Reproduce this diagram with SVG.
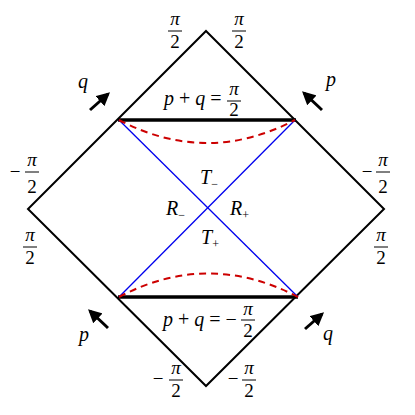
<svg xmlns="http://www.w3.org/2000/svg" width="415" height="415" viewBox="0 0 415 415">
<defs>
<marker id="ah" viewBox="0 0 10 10" refX="8" refY="5" markerWidth="4.5" markerHeight="4.5" orient="auto" markerUnits="strokeWidth">
<path d="M0,0 L10,5 L0,10 z" fill="#000"/>
</marker>
</defs>
<style>
text{font-family:'Liberation Serif','DejaVu Serif',serif;fill:#000}
.v{font-style:italic;font-size:20px}
.n{font-size:19px}
.s{font-size:12px}
.fr{stroke:#000;stroke-width:1}
.arr{stroke:#000;stroke-width:3;fill:none;marker-end:url(#ah)}
</style>
<rect width="415" height="415" fill="#fff"/>
<g id="connectors">
<polygon points="206,31 384,209 206,386 28,209" fill="none" stroke="#000" stroke-width="2"/>
<line x1="118" y1="120" x2="296" y2="120" stroke="#000" stroke-width="3.5"/>
<line x1="118" y1="297" x2="298" y2="297" stroke="#000" stroke-width="3.5"/>
<line x1="119" y1="120" x2="298" y2="297" stroke="#0000ee" stroke-width="1.3"/>
<line x1="295" y1="120" x2="119" y2="297" stroke="#0000ee" stroke-width="1.3"/>
<path d="M119,120 Q207,166 295,120" fill="none" stroke="#cc0000" stroke-width="2" stroke-dasharray="7,5"/>
<path d="M119,297 Q208,250 298,297" fill="none" stroke="#cc0000" stroke-width="2" stroke-dasharray="7,5"/>
<line class="arr" x1="90" y1="110" x2="108" y2="94"/>
<line class="arr" x1="322" y1="110" x2="304" y2="93"/>
<line class="arr" x1="108" y1="328" x2="90" y2="311"/>
<line class="arr" x1="305" y1="329" x2="322" y2="314"/>
</g>
<g id="labels" font-family="'Liberation Serif','DejaVu Serif',serif">
<text class="v" x="78" y="88">q</text>
<text class="v" x="326" y="86">p</text>
<text class="v" x="79" y="341">p</text>
<text class="v" x="323" y="340">q</text>
<text class="v" x="200" y="184">T<tspan class="s" font-style="normal" dy="4">−</tspan></text>
<text class="v" x="166" y="215">R<tspan class="s" font-style="normal" dy="4">−</tspan></text>
<text class="v" x="230" y="215">R<tspan class="s" font-style="normal" dy="4">+</tspan></text>
<text class="v" x="201" y="244">T<tspan class="s" font-style="normal" dy="4">+</tspan></text>
</g>
<g id="top-eq" font-family="'Liberation Serif','DejaVu Serif',serif">
<text class="v" x="164" y="105">p<tspan font-style="normal"> + </tspan>q<tspan font-style="normal"> = </tspan></text>
<text class="n" x="234" y="95" text-anchor="middle" font-style="italic">π</text>
<line class="fr" x1="227" y1="101" x2="241" y2="101"/>
<text class="n" x="234" y="116" text-anchor="middle">2</text>
</g>
<g id="bottom-eq" font-family="'Liberation Serif','DejaVu Serif',serif">
<text class="v" x="163" y="326">p<tspan font-style="normal"> + </tspan>q<tspan font-style="normal"> = −</tspan></text>
<text class="n" x="248" y="315" text-anchor="middle" font-style="italic">π</text>
<line class="fr" x1="241" y1="320" x2="255" y2="320"/>
<text class="n" x="248" y="337" text-anchor="middle">2</text>
</g>
<g id="fractions" font-family="'Liberation Serif','DejaVu Serif',serif">
<text class="n" x="175" y="25" text-anchor="middle" font-style="italic">π</text>
<line class="fr" x1="168" y1="31" x2="182" y2="31"/>
<text class="n" x="175" y="48" text-anchor="middle">2</text>
<text class="n" x="239" y="25" text-anchor="middle" font-style="italic">π</text>
<line class="fr" x1="232" y1="31" x2="246" y2="31"/>
<text class="n" x="239" y="48" text-anchor="middle">2</text>

<text class="n" x="15" y="178" text-anchor="middle">−</text>
<text class="n" x="32" y="166" text-anchor="middle" font-style="italic">π</text>
<line class="fr" x1="25" y1="172" x2="39" y2="172"/>
<text class="n" x="32" y="193" text-anchor="middle">2</text>
<text class="n" x="30" y="241" text-anchor="middle" font-style="italic">π</text>
<line class="fr" x1="23" y1="247" x2="37" y2="247"/>
<text class="n" x="30" y="264" text-anchor="middle">2</text>

<text class="n" x="367" y="178" text-anchor="middle">−</text>
<text class="n" x="383" y="166" text-anchor="middle" font-style="italic">π</text>
<line class="fr" x1="376" y1="172" x2="390" y2="172"/>
<text class="n" x="383" y="193" text-anchor="middle">2</text>
<text class="n" x="381" y="241" text-anchor="middle" font-style="italic">π</text>
<line class="fr" x1="374" y1="247" x2="388" y2="247"/>
<text class="n" x="381" y="264" text-anchor="middle">2</text>

<text class="n" x="158" y="385" text-anchor="middle">−</text>
<text class="n" x="176" y="374" text-anchor="middle" font-style="italic">π</text>
<line class="fr" x1="169" y1="380" x2="183" y2="380"/>
<text class="n" x="176" y="397" text-anchor="middle">2</text>
<text class="n" x="233" y="385" text-anchor="middle">−</text>
<text class="n" x="249" y="374" text-anchor="middle" font-style="italic">π</text>
<line class="fr" x1="242" y1="380" x2="256" y2="380"/>
<text class="n" x="249" y="397" text-anchor="middle">2</text>
</g>
</svg>
